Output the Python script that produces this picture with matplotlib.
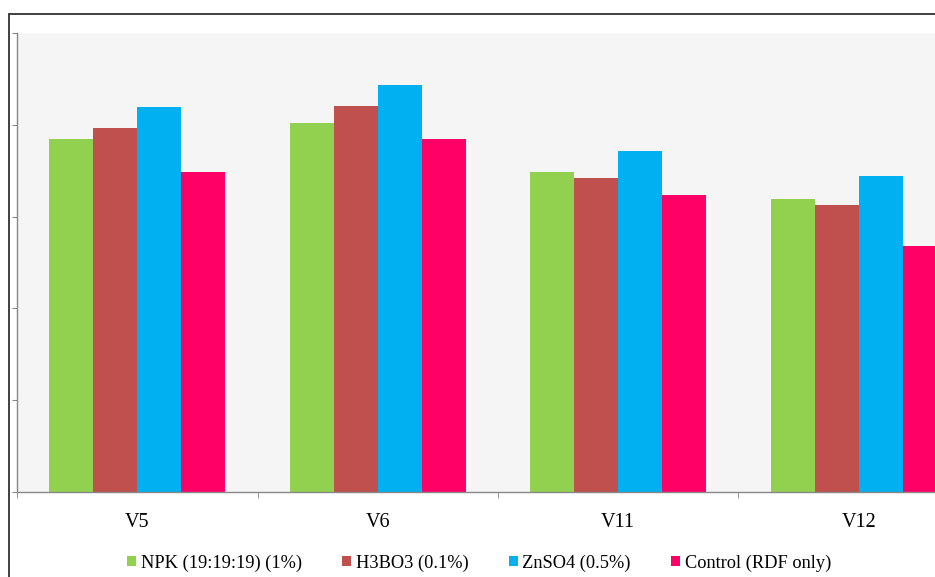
import matplotlib
matplotlib.use("Agg")
import matplotlib.pyplot as plt
import numpy as np
from matplotlib.patches import Rectangle

categories = ["V5", "V6", "V11", "V12"]
series_names = ["NPK (19:19:19) (1%)", "H3BO3 (0.1%)", "ZnSO4 (0.5%)", "Control (RDF only)"]
npk = [38.5, 40.2, 34.9, 31.9]
h3bo3 = [39.7, 42.0, 34.2, 31.3]
znso4 = [41.9, 44.3, 37.1, 34.4]
control = [34.9, 38.5, 32.4, 26.8]
colors = ["#92d050", "#c0504d", "#00b0f0", "#ff0066"]

plt.rcParams["font.family"] = ["Liberation Serif", "DejaVu Serif"]

W, H = 935, 577
fig = plt.figure(figsize=(W / 100, H / 100), dpi=100)

# outer chart frame (only left/top edges fall inside the picture)
fig.patches.append(Rectangle((9 / W, -0.2), 1.5, 1.2 - 13.5 / H, transform=fig.transFigure,
                             fill=False, edgecolor="#404040", linewidth=1.4))

ax = fig.add_axes([17 / W, 1 - 492 / H, 962 / W, 459 / H])
ax.set_facecolor("#f5f5f5")

x = np.arange(len(categories))
w = 0.183
for i, (vals, name) in enumerate(zip([npk, h3bo3, znso4, control], series_names)):
    ax.bar(x + (i - 1.5) * w, vals, width=w, color=colors[i], label=name, zorder=2)

ax.set_xlim(-0.5, len(categories) - 0.5)
ax.set_ylim(0, 50)
ax.set_yticks(np.arange(0, 51, 10))
ax.set_yticklabels([])
ax.set_xticks(x)
ax.set_xticklabels(categories, fontsize=14.5)
ax.set_xticks(np.arange(-0.5, len(categories), 1), minor=True)
ax.tick_params(axis="x", which="major", length=0, pad=15)
ax.tick_params(axis="x", which="minor", length=4, color="#888888", direction="out")
ax.tick_params(axis="y", length=3.5, color="#888888", direction="out")

for side in ["top", "right"]:
    ax.spines[side].set_visible(False)
for side in ["left", "bottom"]:
    ax.spines[side].set_color("#888888")
    ax.spines[side].set_linewidth(1.0)

handles, labels = ax.get_legend_handles_labels()
fig.legend(handles, labels, loc="center", bbox_to_anchor=(479 / W, 1 - 563 / H), ncol=4,
           frameon=False, fontsize=13.2, handlelength=0.5, handleheight=0.5,
           handletextpad=0.25, columnspacing=2.2)

fig.savefig("out.png", dpi=100)
